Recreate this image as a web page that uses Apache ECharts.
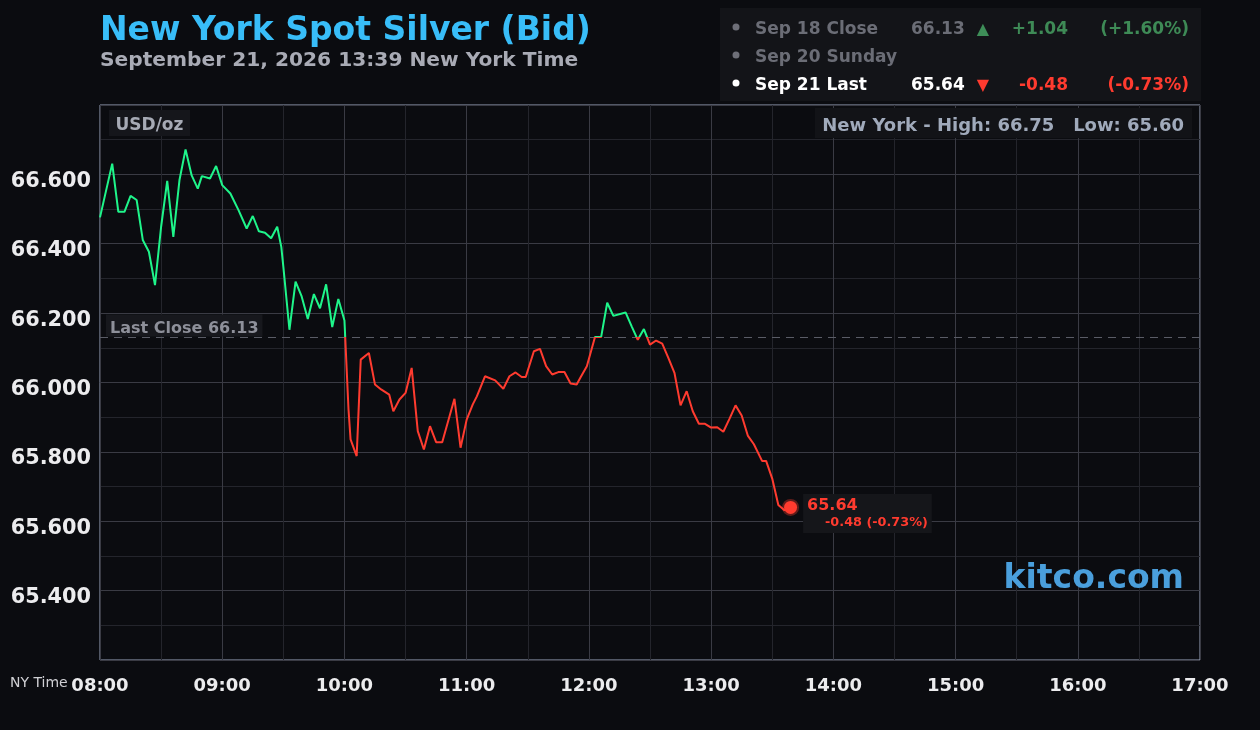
<!DOCTYPE html>
<html><head><meta charset="utf-8">
<script src="https://cdn.jsdelivr.net/npm/echarts@6/dist/echarts.min.js"></script>
<style>html,body{margin:0;padding:0;background:#0b0c10;}#c{width:1260px;height:730px;}</style>
</head><body><div id="c"></div>
<script>
const times = ['08:00','08:06','08:09','08:12','08:15','08:18','08:21','08:24','08:27','08:30','08:33','08:36','08:39','08:42','08:45','08:48','08:50','08:54','08:57',
'09:00','09:04','09:08','09:12','09:15','09:18','09:21','09:24','09:27','09:29','09:30','09:33','09:36','09:39','09:42','09:45','09:48','09:51','09:54','09:57',
'10:00','10:02','10:03','10:06','10:08','10:12','10:15','10:18','10:22','10:24','10:27','10:30','10:33','10:36','10:39','10:42','10:45','10:48','10:54','10:57',
'11:00','11:03','11:05','11:09','11:14','11:18','11:21','11:24','11:27','11:29','11:33','11:36','11:39','11:42','11:45','11:48','11:51','11:54','11:56','11:59',
'12:03','12:06','12:09','12:12','12:18','12:21','12:24','12:27','12:30','12:33','12:36','12:39','12:42','12:45','12:48','12:51','12:54','12:57',
'13:00','13:03','13:06','13:09','13:12','13:15','13:18','13:21','13:25','13:27','13:30','13:33','13:36','13:39'];
const prices = [66.476,66.631,66.492,66.492,66.538,66.526,66.411,66.377,66.281,66.449,66.581,66.420,66.583,66.672,66.597,66.559,66.595,66.588,66.624,
66.569,66.545,66.497,66.444,66.480,66.436,66.432,66.416,66.449,66.391,66.334,66.152,66.291,66.248,66.183,66.255,66.214,66.283,66.160,66.241,
66.179,65.922,65.836,65.788,66.066,66.085,65.994,65.980,65.965,65.917,65.951,65.970,66.042,65.860,65.807,65.874,65.828,65.828,65.953,65.812,
65.893,65.937,65.960,66.018,66.006,65.982,66.018,66.029,66.016,66.016,66.090,66.097,66.047,66.023,66.030,66.030,65.997,65.994,66.016,66.047,
66.131,66.131,66.230,66.192,66.202,66.162,66.123,66.154,66.109,66.121,66.112,66.071,66.028,65.934,65.975,65.917,65.881,65.881,
65.870,65.871,65.858,65.895,65.934,65.905,65.847,65.822,65.774,65.774,65.723,65.647,65.632,65.640];
const xTickLabels = ['08:00','09:00','10:00','11:00','12:00','13:00','14:00','15:00','16:00','17:00'];
const lastClose = 66.13;
const lastPrice = 65.64;
const change = '-0.48';
const changePct = '(-0.73%)';
const prevRow = {label:'Sep 18 Close', price:'66.13', change:'+1.04', pct:'(+1.60%)'};
const midRow = 'Sep 20 Sunday';
const curRow = {label:'Sep 21 Last', price:'65.64', change:'-0.48', pct:'(-0.73%)'};
const dayHigh = '66.75', dayLow = '65.60';

const GREEN = '#1ef58a', RED = '#ff3b2f';
const toH = s => { const [h,m] = s.split(':').map(Number); return h + m/60; };
const lineData = times.map((t,i)=>[toH(t), prices[i]]);
const lastPt = lineData[lineData.length-1];

const chart = echarts.init(document.getElementById('c'), null, {renderer:'canvas'});
const F = 'DejaVu Sans';
function txt(x,y,text,opt){
  return {type:'text', x:x, y:y, z:100, style:Object.assign({text:text, fontFamily:F, fontWeight:'bold', fontSize:17, fill:'#fff', verticalAlign:'middle', align:'left'}, opt||{})};
}
const graphics = [
  txt(100, 31, 'New York Spot Silver (Bid)', {fontSize:33, fill:'#38bdf8'}),
  txt(100, 61, 'September 21, 2026 13:39 New York Time', {fontSize:20.2, fill:'#a9abb5'}),
  {type:'rect', z:90, shape:{x:720,y:8,width:481,height:93}, style:{fill:'#131418'}},
  {type:'circle', z:100, shape:{cx:736,cy:27,r:3.5}, style:{fill:'#6e6f78'}},
  {type:'circle', z:100, shape:{cx:736,cy:55,r:3.5}, style:{fill:'#6e6f78'}},
  {type:'circle', z:100, shape:{cx:736,cy:83,r:3.5}, style:{fill:'#ffffff'}},
  txt(755, 29.5, prevRow.label, {fill:'#6b6d76'}),
  txt(911, 29.5, prevRow.price, {fill:'#6b6d76'}),
  txt(983, 30, '▲', {fill:'#3e8e58', align:'center', fontSize:16}),
  txt(1068, 29.5, prevRow.change, {fill:'#3e8a56', align:'right'}),
  txt(1189, 29.5, prevRow.pct, {fill:'#3e8a56', align:'right'}),
  txt(755, 57.5, midRow, {fill:'#6b6d76'}),
  txt(755, 85.5, curRow.label, {fill:'#ffffff'}),
  txt(911, 85.5, curRow.price, {fill:'#ffffff'}),
  txt(983, 86, '▼', {fill:RED, align:'center', fontSize:16}),
  txt(1068, 85.5, curRow.change, {fill:RED, align:'right'}),
  txt(1189, 85.5, curRow.pct, {fill:RED, align:'right'}),
  {type:'rect', z:90, shape:{x:109,y:110,width:81,height:26}, style:{fill:'#15161b'}},
  txt(115.5, 126, 'USD/oz', {fill:'#a6aab5'}),
  {type:'rect', z:90, shape:{x:815,y:108,width:377,height:30}, style:{fill:'#121317'}},
  txt(1184, 126, 'New York - High: ' + dayHigh + '   Low: ' + dayLow, {fill:'#a0aabb', align:'right', fontSize:18}),
  txt(1184, 579.5, 'kitco.com', {fill:'#4a9fdc', align:'right', fontSize:33}),
  txt(10, 683.5, 'NY Time', {fill:'#d0d0d4', fontWeight:'normal', fontSize:14})
];

chart.setOption({
  animation:false,
  backgroundColor:'#0b0c10',
  grid:{left:100, right:60, top:105, bottom:70, show:true, borderColor:'#9ba5bd', borderWidth:1, backgroundColor:'transparent'},
  xAxis:{type:'value', min:8, max:17, interval:1,
    axisLine:{show:false}, axisTick:{show:false},
    minorTick:{show:false, splitNumber:2},
    splitLine:{show:true, lineStyle:{color:'#3a3b44', width:1}},
    minorSplitLine:{show:true, lineStyle:{color:'#24252c', width:1}},
    axisLabel:{color:'#ececee', fontFamily:F, fontWeight:'bold', fontSize:18, margin:17, hideOverlap:false,
      formatter:v=>xTickLabels[Math.round(v-8)] || ''}
  },
  yAxis:{type:'value', min:65.2, max:66.8, interval:0.2,
    axisLine:{show:false}, axisTick:{show:false},
    minorTick:{show:false, splitNumber:2},
    splitLine:{show:true, lineStyle:{color:'#3a3b44', width:1}},
    minorSplitLine:{show:true, lineStyle:{color:'#24252c', width:1}},
    axisLabel:{color:'#ececee', fontFamily:F, fontWeight:'bold', fontSize:20.8, margin:9, verticalAlign:'top', lineHeight:14,
      formatter:v=> (v>65.3 && v<66.7) ? v.toFixed(3) : ''}
  },
  visualMap:{show:false, type:'piecewise', dimension:1, seriesIndex:0,
    pieces:[{gt:lastClose, lte:70, color:GREEN},{gte:60, lte:lastClose, color:RED}]},
  series:[
    {type:'line', data:lineData, symbol:'none', lineStyle:{width:2}, z:5,
      markLine:{silent:true, symbol:'none', animation:false,
        lineStyle:{color:'#5a5c66', type:[8,6], width:1},
        label:{show:true, position:'insideStartTop', distance:[6,1], formatter:'Last Close ' + lastClose.toFixed(2),
          color:'#8e909a', fontFamily:F, fontWeight:'bold', fontSize:16, lineHeight:16, backgroundColor:'#17181d', padding:[6,4,0,4]},
        emphasis:{disabled:true},
        data:[{yAxis:lastClose}]}
    },
    {type:'scatter', data:[lastPt], symbolSize:13, z:10,
      itemStyle:{color:RED, opacity:1, borderColor:'rgba(255,59,47,0.35)', borderWidth:4},
      label:{show:true, position:'right', distance:4, offset:[0,6], backgroundColor:'#15161a', padding:[3,4,3,4],
        formatter:'{a|' + lastPrice.toFixed(2) + '}\n{b|' + change + ' ' + changePct + '}',
        rich:{a:{color:RED, fontFamily:F, fontWeight:'bold', fontSize:16, lineHeight:18},
              b:{color:RED, fontFamily:F, fontWeight:'bold', fontSize:12.8, lineHeight:15, padding:[0,0,0,18]}}}
    }
  ],
  graphic:graphics
});
</script></body></html>
